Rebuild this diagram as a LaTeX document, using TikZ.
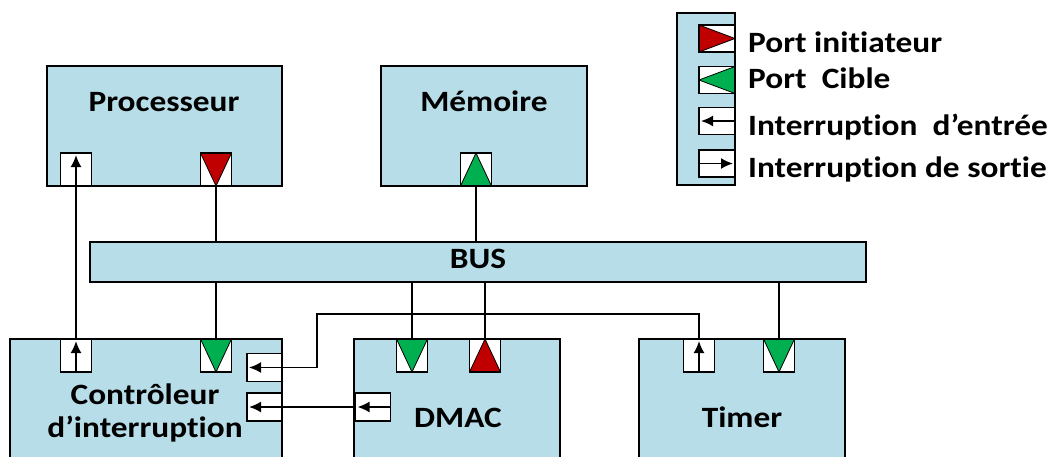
\documentclass[tikz,border=0pt]{standalone}
\usepackage{fontspec}
\setmainfont{Carlito}[FakeStretch=1.13, Ligatures=NoCommon]
\usetikzlibrary{arrows.meta, positioning}
\definecolor{boxblue}{RGB}{183, 221, 232}
\definecolor{initred}{RGB}{192, 0, 0}
\definecolor{tgtgreen}{RGB}{0, 176, 80}
\newcommand{\lblfont}{\fontsize{29.5}{33}\selectfont\bfseries}

\begin{document}
\begin{tikzpicture}[x=1pt, y=-1pt,
    blk/.style={draw, fill=boxblue, line width=1.8pt, inner sep=0pt},
    lbl/.style={font=\lblfont, inner sep=0pt, anchor=base},
    arr/.style={-{Latex[length=12pt, width=11pt]}, line width=1.8pt},
    wire/.style={line width=1.8pt},
    port/.style={draw, fill=white, line width=1.6pt, inner sep=0pt,
                 minimum width=31pt, minimum height=33pt},
    hport/.style={minimum width=35pt, minimum height=28pt},
    lport/.style={minimum width=36pt, minimum height=27pt},
    tri down/.style={port, path picture={
        \filldraw[fill=#1, line width=0.8pt] (path picture bounding box.north west)
          -- (path picture bounding box.north east)
          -- (path picture bounding box.south) -- cycle;}},
    tri up/.style={port, path picture={
        \filldraw[fill=#1, line width=0.8pt] (path picture bounding box.south west)
          -- (path picture bounding box.south east)
          -- (path picture bounding box.north) -- cycle;}},
    tri right/.style={port, path picture={
        \filldraw[fill=#1, line width=0.8pt] (path picture bounding box.north west)
          -- (path picture bounding box.south west)
          -- (path picture bounding box.east) -- cycle;}},
    tri left/.style={port, path picture={
        \filldraw[fill=#1, line width=0.8pt] (path picture bounding box.north east)
          -- (path picture bounding box.south east)
          -- (path picture bounding box.west) -- cycle;}},
    irq up/.style={port, path picture={
        \draw[arr] (path picture bounding box.south)
          -- ([yshift=-2pt]path picture bounding box.north);}},
    irq left/.style={port, path picture={
        \draw[arr] (path picture bounding box.east)
          -- ([xshift=2pt]path picture bounding box.west);}},
    irq right/.style={port, path picture={
        \draw[arr] (path picture bounding box.west)
          -- ([xshift=-2pt]path picture bounding box.east);}},
  ]
  \useasboundingbox (0,0) rectangle (1052,456);
  \clip (0,0) rectangle (1052,456);

  % blocs
  \node[blk, minimum width=235pt, minimum height=120pt] (proc) at (164.5,126) {};
  \node[blk, minimum width=206pt, minimum height=120pt] (mem) at (484,126) {};
  \node[blk, minimum width=776pt, minimum height=40pt] (bus) at (478,262) {};
  \node[blk, minimum width=272pt, minimum height=140pt] (ctrl) at (146,409) {};
  \node[blk, minimum width=206pt, minimum height=140pt] (dmac) at (457,409) {};
  \node[blk, minimum width=206pt, minimum height=140pt] (timer) at (742,409) {};

  \node[lbl] (proctxt) at (164,111) {Processeur};
  \node[lbl] (memtxt) at (484,111) {Mémoire};
  \node[lbl] (bustxt) at (478,268) {BUS};
  \node[lbl, align=center] (ctrltxt) at (145,437) {Contrôleur\\d’interruption};
  \node[lbl] (dmactxt) at (458,427) {DMAC};
  \node[lbl] (timertxt) at (742,427) {Timer};

  % ports
  \node[irq up] (procirq) at (76,169.5) {};
  \node[tri down=initred] (procini) at (216,169.5) {};
  \node[tri up=tgtgreen] (memtgt) at (476,169.5) {};
  \node[irq up] (ctrlirq) at (76,355.5) {};
  \node[tri down=tgtgreen] (ctrltgt) at (216,355.5) {};
  \node[irq left, hport] (ctrlina) at (264.5,367.5) {};
  \node[irq left, hport] (ctrlinb) at (264.5,407) {};
  \node[tri down=tgtgreen] (dmactgt) at (412,355.5) {};
  \node[tri up=initred] (dmacini) at (485,355.5) {};
  \node[irq left, hport] (dmacirq) at (373,407) {};
  \node[irq up] (timerirq) at (699,355.5) {};
  \node[tri down=tgtgreen] (timertgt) at (779,355.5) {};

  % liaisons au bus
  \draw[wire] (procini.south) -- (procini.south |- bus.north);
  \draw[wire] (memtgt.south) -- (memtgt.south |- bus.north);
  \draw[wire] (ctrltgt.north) -- (ctrltgt.north |- bus.south);
  \draw[wire] (dmactgt.north) -- (dmactgt.north |- bus.south);
  \draw[wire] (dmacini.north) -- (dmacini.north |- bus.south);
  \draw[wire] (timertgt.north) -- (timertgt.north |- bus.south);

  % interruptions
  \coordinate (irqbend) at (317,314);
  \draw[wire] (ctrlirq.north) -- (procirq.south);
  \draw[wire] (timerirq.north) |- (irqbend) |- (ctrlina.east);
  \draw[wire] (dmacirq.west) -- (ctrlinb.east);

  % legende
  \node[blk, minimum width=58pt, minimum height=172pt] (legend) at (706,99) {};
  \node[tri right=initred, lport] (leginit) at (717,38.5) {};
  \node[tri left=tgtgreen, lport] (legtgt) at (717,80) {};
  \node[irq left, lport] (legin) at (717,121) {};
  \node[irq right, lport] (legout) at (717,163.5) {};
  \node[lbl, anchor=base west] (leginittxt) at (748,52) {Port initiateur};
  \node[lbl, anchor=base west] (legtgttxt) at (748,88) {Port~~Cible};
  \node[lbl, anchor=base west] (legintxt) at (748,135) {Interruption~~d’entrée};
  \node[lbl, anchor=base west] (legouttxt) at (748,177) {Interruption de sortie};
\end{tikzpicture}
\end{document}
